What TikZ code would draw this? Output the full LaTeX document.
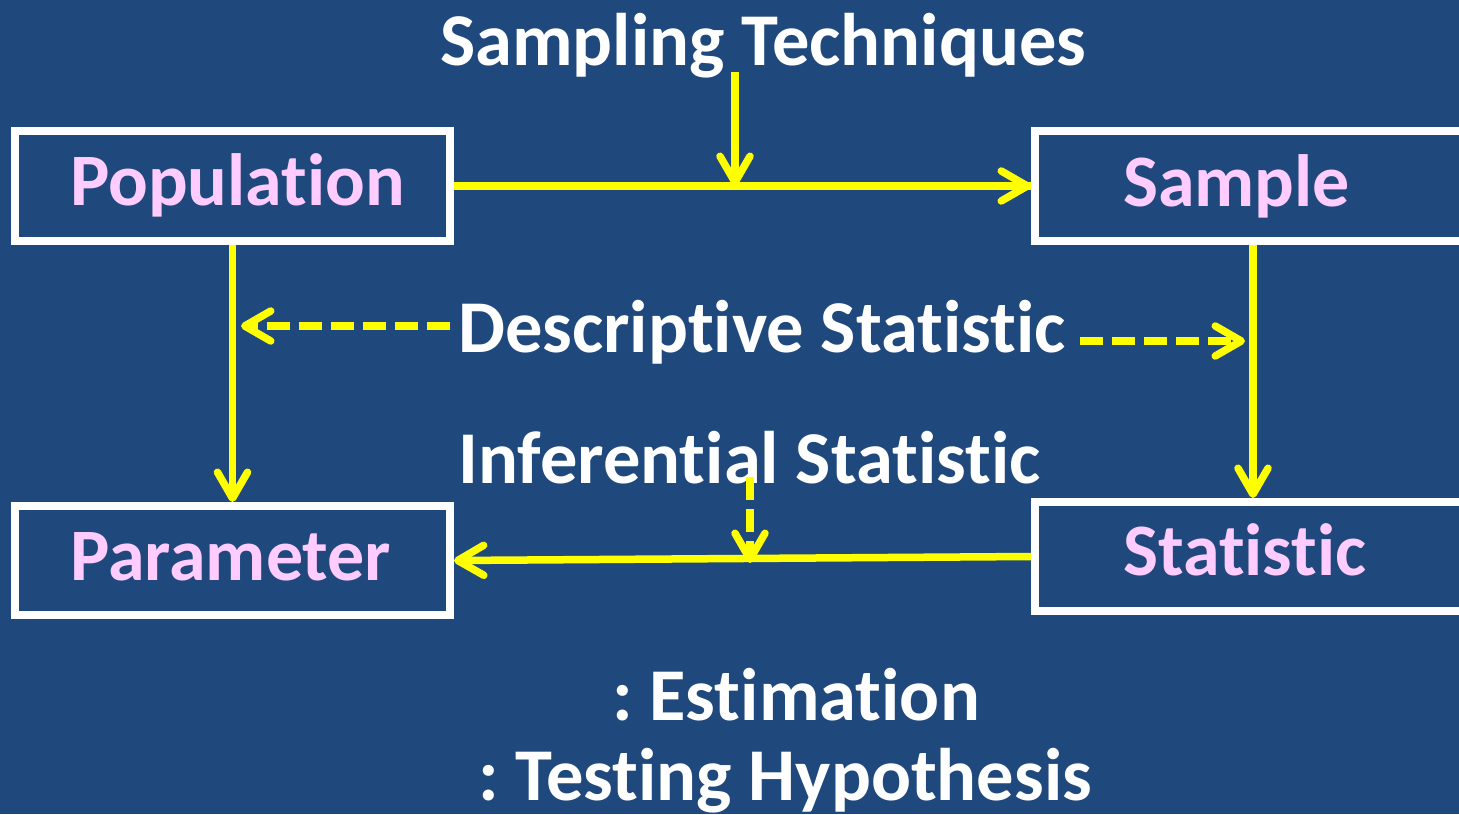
\documentclass[tikz,border=0pt]{standalone}
\usepackage{fontspec}
\setmainfont{Carlito}[Ligatures={NoCommon,NoRare,NoContextual}, RawFeature={-liga;-clig;-calt;-dlig}]
\usetikzlibrary{arrows.meta}
\definecolor{bgblue}{RGB}{31,73,125}
\definecolor{pinktxt}{RGB}{255,204,255}
\definecolor{yel}{RGB}{255,255,0}
\frenchspacing
\tikzset{
  box/.style={draw=white, line width=8pt, fill=bgblue, inner sep=0pt},
  boxtxt/.style={text=pinktxt, font=\fontsize{74}{80}\selectfont\bfseries, inner sep=0pt, anchor=base west},
  wtxt/.style={text=white, font=\fontsize{74.5}{80}\selectfont\bfseries, inner sep=0pt, anchor=base west},
  arr/.style={draw=yel, line width=7.5pt, -{Straight Barb[length=26pt,width=30pt,round]}},
  darr/.style={arr, dash pattern=on 23pt off 9pt},
}
\begin{document}
\begin{tikzpicture}[x=1pt,y=-1pt]
\fill[bgblue] (0,0) rectangle (1459,814);
\useasboundingbox (0,0) rectangle (1459,814);
% boxes
\node[box, minimum width=435pt, minimum height=110pt] (pop) at (232.5,186) {};
\node[box, minimum width=436pt, minimum height=110pt] (samp) at (1253,186) {};
\node[box, minimum width=435pt, minimum height=109pt] (par) at (232.5,560.5) {};
\node[box, minimum width=436pt, minimum height=109pt] (stat) at (1253,556.5) {};
% box texts
\node[boxtxt] (poptxt) at (70,205) {Population};
\node[boxtxt] (samptxt) at (1123,206) {Sample};
\node[boxtxt] (partxt) at (70,580) {Parameter};
\node[boxtxt] (stattxt) at (1123,575) {Statistic};
% white texts
\node[wtxt] (title) at (440,65) {Sampling Techniques};
\node[wtxt] (desc) at (458,352) {Descriptive Statistic};
\node[wtxt] (infer) at (458,483) {Inferential Statistic};
\node[wtxt] (est) at (612,720) {: Estimation};
\node[wtxt] (test) at (478,800) {: Testing Hypothesis};
% coordinates
\coordinate (st) at (735,186);
\coordinate (stTop) at (735,72);
\coordinate (dl0) at (450,326);
\coordinate (dl1) at (241,326);
\coordinate (dr0) at (1080,341);
\coordinate (dr1) at (1245,341);
\coordinate (if0) at (750,477);
\coordinate (if1) at (750,563);
% connectors
\draw[draw=yel, line width=7.5pt] (pop.east) -- (samp.west);
\draw[arr] (st) -- (samp.west);
\draw[arr] (stTop) -- (st);
\draw[arr] (pop.south) -- (par.north);
\draw[arr] (samp.south) -- (stat.north);
\draw[arr] (stat.west) -- (par.east);
\draw[darr] (dl0) -- (dl1);
\draw[darr] (dr0) -- (dr1);
\draw[darr] (if0) -- (if1);
\end{tikzpicture}
\end{document}
